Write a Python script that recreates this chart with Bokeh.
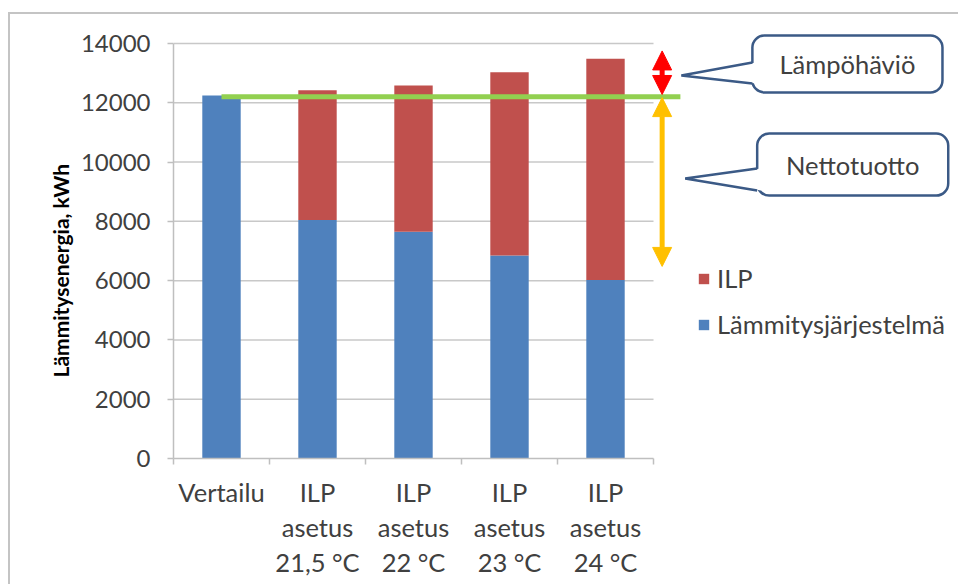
from bokeh.plotting import figure
from bokeh.models import (ColumnDataSource, Range1d, FixedTicker, Legend, LegendItem,
                          Arrow, NormalHead, Title)
from bokeh.core.properties import value
from bokeh.embed import file_html
from bokeh.resources import INLINE

# ---------------- data ----------------
categories = ["Vertailu", "ILP\nasetus\n21,5 °C", "ILP\nasetus\n22 °C",
              "ILP\nasetus\n23 °C", "ILP\nasetus\n24 °C"]
lammitysjarjestelma = [12250, 8050, 7650, 6850, 6020]
ilp = [0, 4370, 4930, 6180, 7470]
y_ticks = [0, 2000, 4000, 6000, 8000, 10000, 12000, 14000]
series_names = ["Lämmitysjärjestelmä", "ILP"]
y_title = "Lämmitysenergia, kWh"
reference_level = 12200          # green line: Vertailu level
loss_span = [12280, 13750]       # red arrow (Lämpöhäviö)
net_span = [12175, 6480]         # yellow arrow (Nettotuotto)
callout_texts = ["Lämpöhäviö", "Nettotuotto"]

# ---------------- styles ----------------
BLUE, RED = "#4f81bd", "#c0504d"
GREEN, ARROW_RED, ARROW_YEL = "#92d050", "#ff0000", "#ffc000"
TEXT = "#404040"
AXIS = "#bfbfbf"
GRID = "#c8c8c8"
FONT = "Lato"
FS = "25.5px"
FS_Y = "24px"
FS_LABEL = "21px"
BOX_LINE = "#3b5a86"
FRAME_GRAY = "#c4c4c4"

n = len(categories)
xs = list(range(n))
x_lo, x_hi = -0.5, n - 0.5

source = ColumnDataSource(dict(x=xs, lam=lammitysjarjestelma, ilp=ilp))

p = figure(width=958, height=584, output_backend="svg", toolbar_location=None,
           x_range=Range1d(x_lo, 7.677), y_range=Range1d(0, 14439),
           min_border_left=173, min_border_right=0, min_border_top=30,
           min_border_bottom=126)
# thin grey picture frame (top and left edges) painted behind a transparent canvas border
p.styles = {"background": (f"linear-gradient({FRAME_GRAY},{FRAME_GRAY}) 8px 12px / 2px 100% no-repeat, "
                           f"linear-gradient({FRAME_GRAY},{FRAME_GRAY}) 8px 12px / 100% 2px no-repeat, "
                           "white")}
p.outline_line_color = None
p.background_fill_color = "white"
p.border_fill_alpha = 0
p.xgrid.visible = False
p.ygrid.visible = False

# horizontal gridlines limited to the category area
grid_vals = [t for t in y_ticks if t > 0]
p.segment(x0=[x_lo] * len(grid_vals), x1=[x_hi] * len(grid_vals), y0=grid_vals, y1=grid_vals,
          line_color=GRID, line_width=1.5)

# stacked bars
r_lam, r_ilp = p.vbar_stack(["lam", "ilp"], x="x", width=0.4, source=source,
                            fill_color=[BLUE, RED], line_color=None)

# green reference line from Vertailu bar to the arrows
p.line(x=[xs[0], x_hi + 0.28], y=[reference_level, reference_level],
       line_color=GREEN, line_width=5)

# arrows
ax = x_hi + 0.09
for span, col in ((loss_span, ARROW_RED), (net_span, ARROW_YEL)):
    p.add_layout(Arrow(x_start=ax, y_start=span[0], x_end=ax, y_end=span[1],
                       line_color=col, line_width=5,
                       start=NormalHead(size=19, fill_color=col, line_color=col),
                       end=NormalHead(size=19, fill_color=col, line_color=col)))

# callouts (rounded boxes in data space to the right of the bars)
boxes = [dict(l=5.53, r=7.51, t=14270, b=12350, tip=(4.79, 12920), base=(13359, 12650)),
         dict(l=5.58, r=7.57, t=10963, b=8872, tip=(4.83, 9445), base=(9783, 9041))]
p.quad(left=[bx["l"] for bx in boxes], right=[bx["r"] for bx in boxes],
       top=[bx["t"] for bx in boxes], bottom=[bx["b"] for bx in boxes],
       fill_color="white", line_color=BOX_LINE, line_width=2.5, border_radius=12)
p.patches(xs=[[bx["l"] + 0.04, bx["tip"][0], bx["l"] + 0.04] for bx in boxes],
          ys=[[bx["base"][0], bx["tip"][1], bx["base"][1]] for bx in boxes],
          fill_color="white", line_color=None)
p.multi_line(xs=[[bx["l"], bx["tip"][0], bx["l"]] for bx in boxes],
             ys=[[bx["base"][0], bx["tip"][1], bx["base"][1]] for bx in boxes],
             line_color=BOX_LINE, line_width=2.5)
p.text(x=[(bx["l"] + bx["r"]) / 2 for bx in boxes], y=[(bx["t"] + bx["b"]) / 2 for bx in boxes],
       text=callout_texts, text_align="center", text_baseline="middle",
       text_font=value(FONT), text_font_size=value(FS), text_color=TEXT)

# axes
p.xaxis.ticker = FixedTicker(ticks=xs, minor_ticks=[i - 0.5 for i in range(n + 1)])
p.xaxis.major_label_overrides = {i: c for i, c in enumerate(categories)}
p.xaxis.bounds = (x_lo, x_hi)
p.xaxis.axis_line_color = AXIS
p.xaxis.axis_line_width = 1.5
p.xaxis.major_tick_line_color = None
p.xaxis.major_tick_out = 6
p.xaxis.minor_tick_line_color = AXIS
p.xaxis.minor_tick_line_width = 1.5
p.xaxis.minor_tick_out = 6
p.xaxis.minor_tick_in = 0
p.xaxis.major_label_standoff = 12
p.xaxis.major_label_text_font = FONT
p.xaxis.major_label_text_font_size = FS
p.xaxis.major_label_text_color = TEXT
p.xaxis.major_label_text_line_height = 1.18

p.yaxis.ticker = FixedTicker(ticks=y_ticks)
p.yaxis.bounds = (0, 14000)
p.yaxis.axis_line_color = AXIS
p.yaxis.axis_line_width = 1.5
p.yaxis.major_tick_line_color = AXIS
p.yaxis.major_tick_line_width = 1.5
p.yaxis.major_tick_out = 6
p.yaxis.major_tick_in = 0
p.yaxis.minor_tick_line_color = None
p.yaxis.major_label_standoff = 17
p.yaxis.major_label_text_font = FONT
p.yaxis.major_label_text_font_size = FS_Y
p.yaxis.major_label_text_color = TEXT

# vertical axis title
p.add_layout(Title(text=y_title, align="left", offset=81, text_font=FONT,
                   text_font_size=FS_LABEL, text_font_style="bold",
                   text_color="#000000", standoff=10), "left")

# legend
legend = Legend(items=[LegendItem(label=series_names[1], renderers=[r_ilp]),
                       LegendItem(label=series_names[0], renderers=[r_lam])],
                location=(524, 119), orientation="vertical",
                border_line_color=None, background_fill_alpha=0,
                padding=0, margin=0, spacing=16, glyph_width=13, glyph_height=13,
                label_height=30, label_standoff=7,
                label_text_font=FONT, label_text_font_size=FS, label_text_color=TEXT)
p.add_layout(legend)

open("out.html", "w").write(file_html(p, INLINE))
